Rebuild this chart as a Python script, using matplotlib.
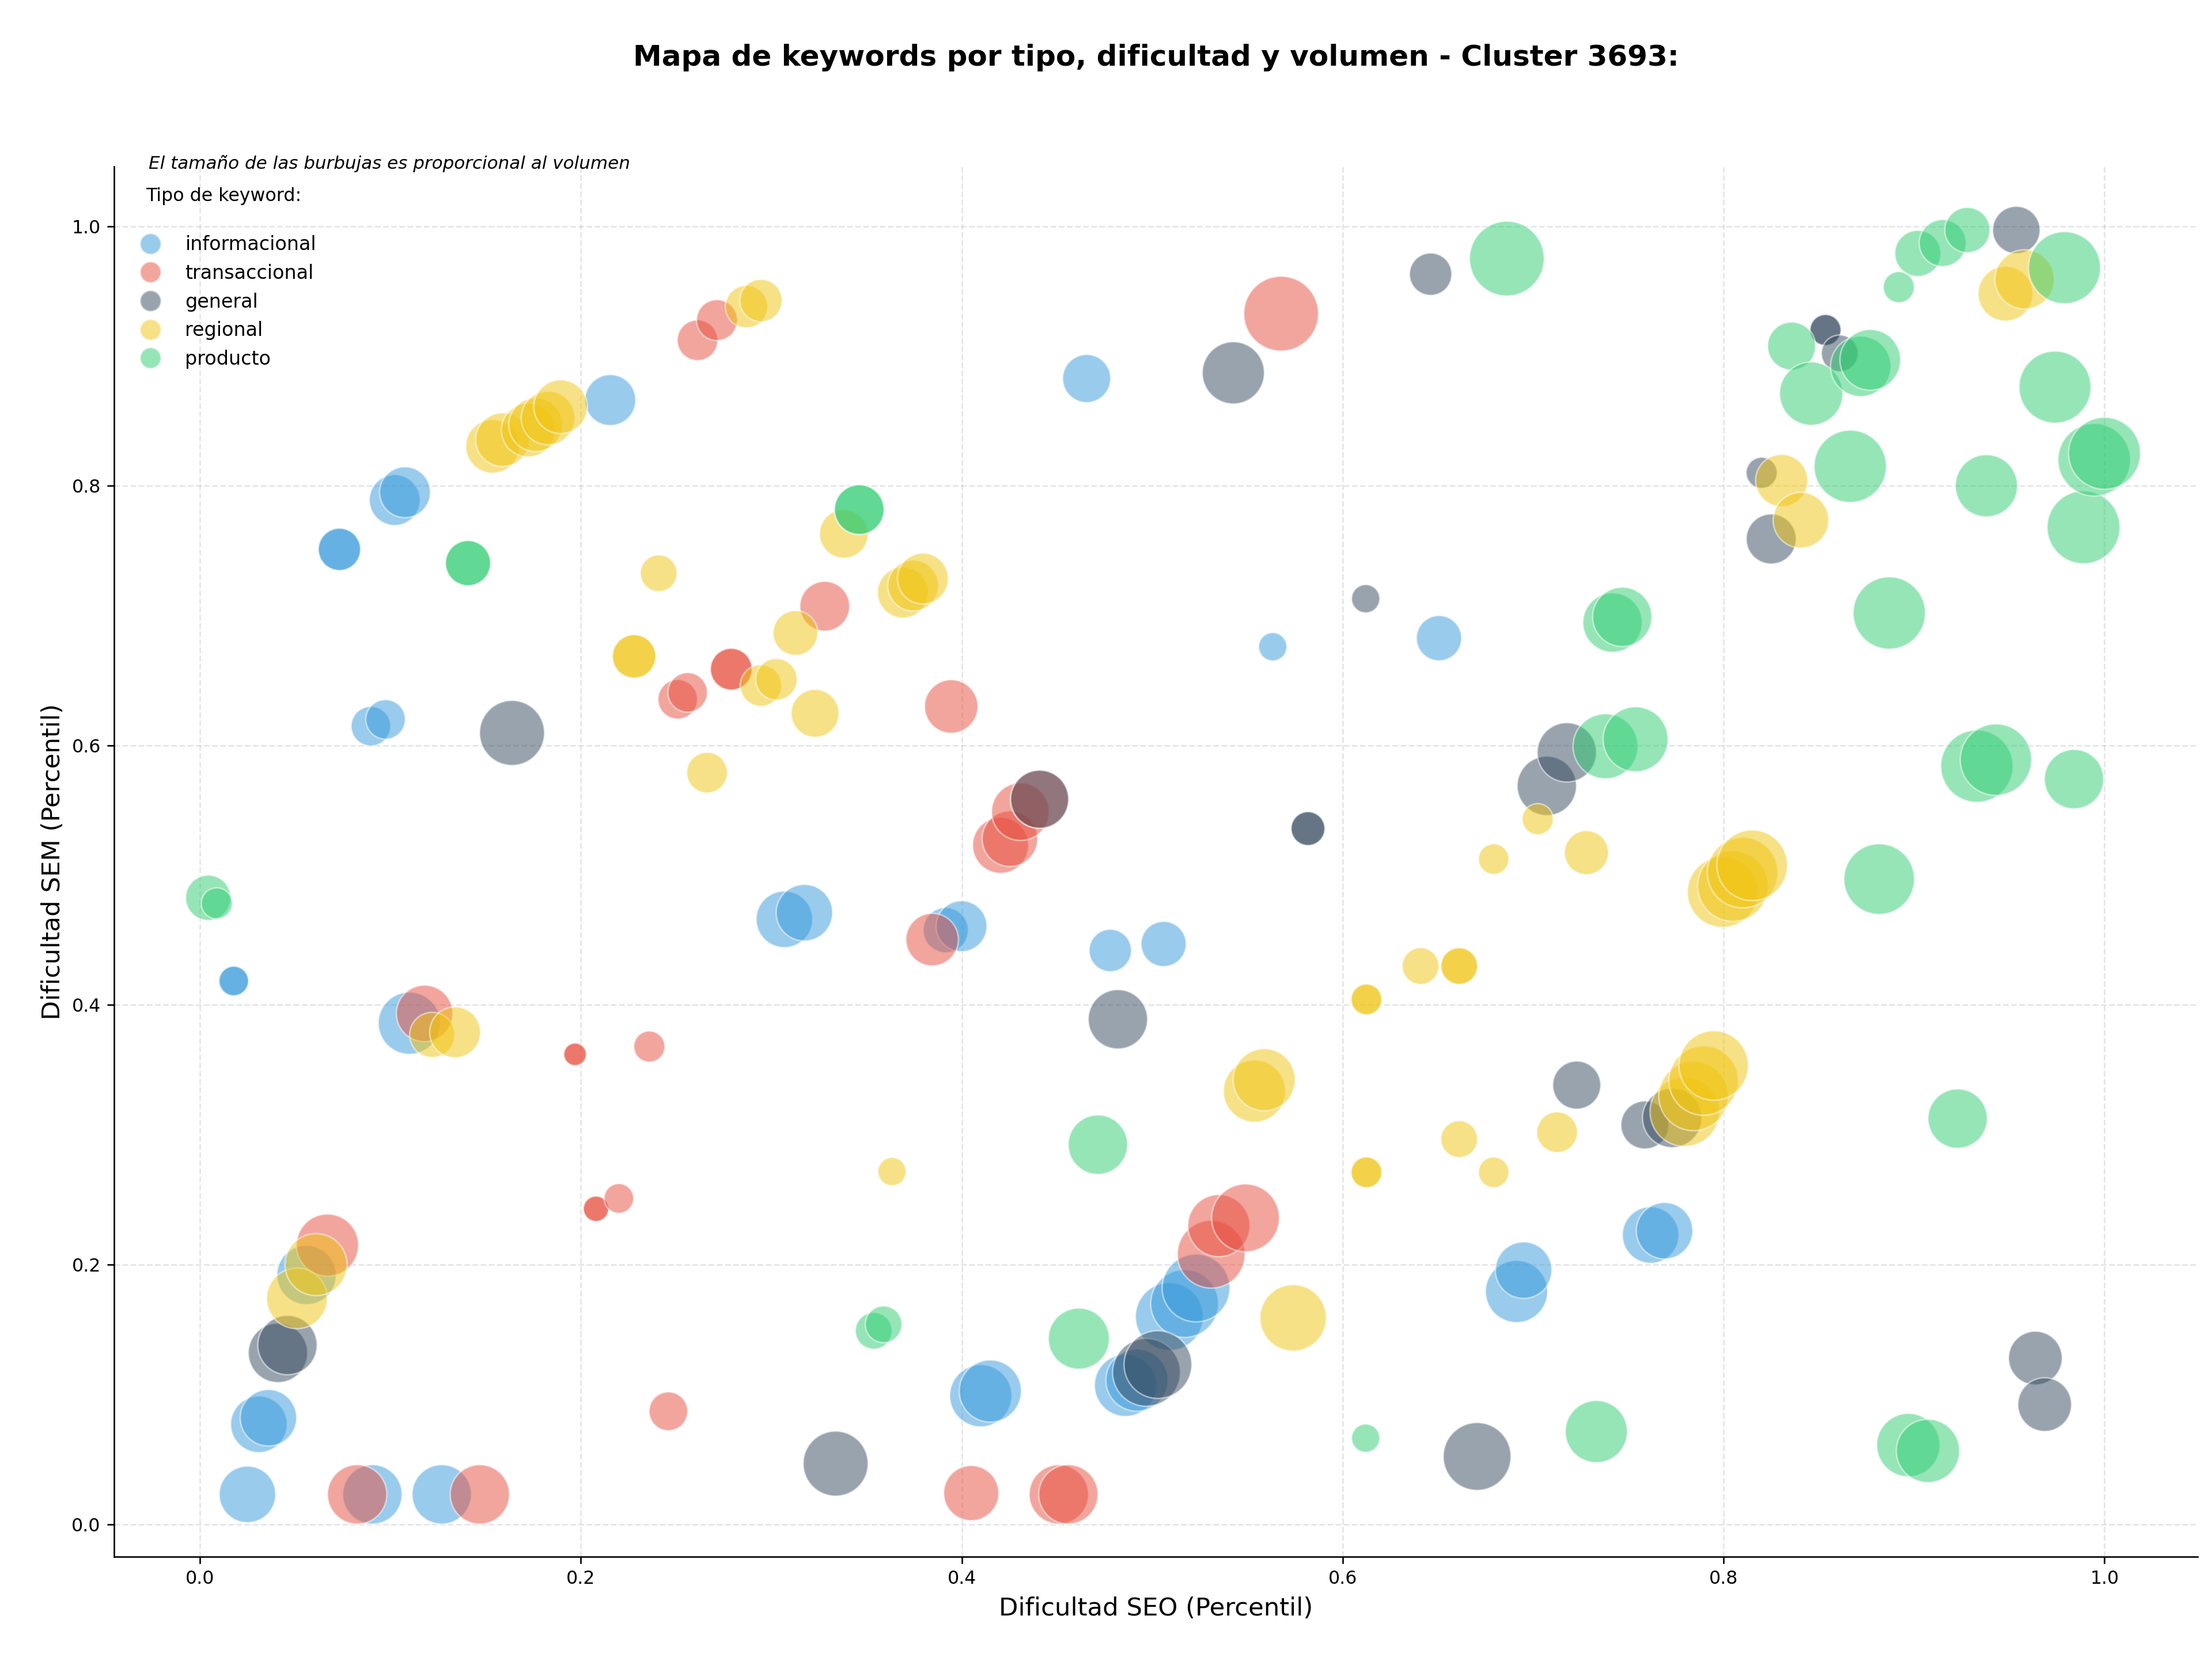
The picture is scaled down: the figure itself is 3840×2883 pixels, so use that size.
import numpy as np
import matplotlib.pyplot as plt
from matplotlib.lines import Line2D

# Dificultad SEO / SEM (percentil) y volumen por tipo de keyword
info_seo = [0.025, 0.0906, 0.127, 0.031, 0.036, 0.056, 0.110, 0.0178, 0.0178, 0.0898, 0.0975,
            0.0733, 0.0733, 0.1023, 0.1077, 0.2155, 0.3069, 0.3174, 0.3916, 0.3999, 0.410, 0.415,
            0.478, 0.506, 0.4656, 0.5633, 0.6506, 0.486, 0.492, 0.509, 0.517, 0.523, 0.6913,
            0.695, 0.7617, 0.769]
info_sem = [0.023, 0.023, 0.023, 0.077, 0.082, 0.192, 0.386, 0.4185, 0.4185, 0.6148, 0.620,
            0.751, 0.751, 0.789, 0.795, 0.866, 0.466, 0.4711, 0.4577, 0.4607, 0.099, 0.1026,
            0.442, 0.447, 0.8826, 0.676, 0.6826, 0.107, 0.111, 0.160, 0.170, 0.182, 0.1793,
            0.1957, 0.2228, 0.2261]
info_vol = [4000, 4410, 4410, 4000, 4000, 4410, 4840, 1100, 1100, 1960, 1960,
            2250, 2250, 3240, 3240, 3240, 4000, 4000, 2560, 3240, 4840, 4840,
            2250, 2560, 2890, 1000, 2560, 4840, 4840, 5760, 5760, 5760, 4840,
            4000, 4000, 4000]

trans_seo = [0.0826, 0.147, 0.067, 0.118, 0.197, 0.197, 0.208, 0.208, 0.220, 0.236, 0.246,
             0.2509, 0.2561, 0.2613, 0.2715, 0.279, 0.279, 0.3281, 0.3945, 0.3845, 0.405,
             0.451, 0.456, 0.4204, 0.4253, 0.4308, 0.4409, 0.531, 0.535, 0.549, 0.5677]
trans_sem = [0.023, 0.023, 0.215, 0.3935, 0.362, 0.362, 0.243, 0.243, 0.251, 0.368, 0.087,
             0.6355, 0.6408, 0.9121, 0.9276, 0.6587, 0.6587, 0.7072, 0.630, 0.4504, 0.024,
             0.023, 0.023, 0.523, 0.5281, 0.5489, 0.5585, 0.208, 0.230, 0.236, 0.9326]
trans_vol = [4410, 4410, 4840, 4000, 640, 640, 810, 810, 1100, 1210, 1880,
             1960, 1960, 2070, 2100, 2190, 2190, 3100, 3570, 3460, 3800,
             4410, 4410, 3920, 3880, 4160, 4240, 5760, 4840, 5760, 7000]

gen_seo = [0.041, 0.046, 0.1639, 0.3338, 0.4409, 0.482, 0.497, 0.503, 0.5426, 0.5818, 0.5818,
           0.6121, 0.6462, 0.6706, 0.7072, 0.7177, 0.7229, 0.7587, 0.773, 0.820, 0.825,
           0.8535, 0.8535, 0.861, 0.9537, 0.9637, 0.9686]
gen_sem = [0.132, 0.138, 0.6096, 0.0467, 0.5585, 0.389, 0.117, 0.123, 0.887, 0.5359, 0.5359,
           0.713, 0.963, 0.0522, 0.5688, 0.5946, 0.3383, 0.3076, 0.313, 0.810, 0.759,
           0.920, 0.920, 0.902, 0.997, 0.128, 0.0922]
gen_vol = [4410, 4410, 5290, 5290, 4240, 4410, 5760, 5760, 4840, 1440, 1440,
           1000, 2250, 5760, 4410, 4410, 2890, 2890, 4410, 1210, 3130,
           1210, 1210, 1690, 2820, 3610, 3610]

reg_seo = [0.051, 0.061, 0.122, 0.134, 0.1537, 0.1589, 0.1724, 0.1763, 0.1828, 0.1894, 0.228,
           0.228, 0.2409, 0.2663, 0.287, 0.2946, 0.2946, 0.3027, 0.3127, 0.323, 0.3381, 0.3634,
           0.3691, 0.3745, 0.3796, 0.5537, 0.5588, 0.574, 0.6125, 0.6125, 0.6125, 0.6125,
           0.6409, 0.6612, 0.6612, 0.6612, 0.6793, 0.6793, 0.7024, 0.7126, 0.728, 0.7796,
           0.7842, 0.7895, 0.7948, 0.7995, 0.8049, 0.810, 0.815, 0.8305, 0.8406, 0.948, 0.958]
reg_sem = [0.174, 0.200, 0.377, 0.379, 0.8304, 0.8355, 0.8429, 0.8470, 0.8522, 0.8609, 0.6686,
           0.6686, 0.7326, 0.579, 0.938, 0.9427, 0.6461, 0.6509, 0.6866, 0.6247, 0.763, 0.2717,
           0.7178, 0.7231, 0.7285, 0.3337, 0.3424, 0.159, 0.4043, 0.4043, 0.2711, 0.2711,
           0.430, 0.430, 0.430, 0.2967, 0.5124, 0.2711, 0.5432, 0.302, 0.5174, 0.3178,
           0.3299, 0.3418, 0.3534, 0.487, 0.4916, 0.502, 0.5076, 0.804, 0.7735, 0.948, 0.959]
reg_vol = [4620, 4840, 2560, 3240, 3610, 3610, 3610, 3610, 3610, 3610, 2370,
           2370, 1690, 2070, 2250, 2250, 2160, 2160, 2500, 2860, 2960, 1000,
           3240, 3240, 3240, 4840, 4840, 5520, 1190, 1190, 1190, 1190,
           1690, 1690, 1690, 1690, 1170, 1170, 1210, 2070, 2430, 6050,
           6050, 6050, 6050, 6250, 6250, 6250, 6250, 3420, 3880, 3760, 4410]

prod_seo = [0.0044, 0.0089, 0.1408, 0.1408, 0.3462, 0.3462, 0.3538, 0.359, 0.4615, 0.4715,
            0.6121, 0.6862, 0.7332, 0.738, 0.7538, 0.7417, 0.7468, 0.8357, 0.846, 0.8665,
            0.872, 0.877, 0.8817, 0.887, 0.892, 0.897, 0.9073, 0.902, 0.915, 0.9229, 0.928,
            0.933, 0.943, 0.938, 0.974, 0.979, 0.984, 0.989, 0.9946, 1.0]
prod_sem = [0.4826, 0.4783, 0.7404, 0.7404, 0.7816, 0.7816, 0.149, 0.154, 0.143, 0.2924,
            0.0663, 0.975, 0.0714, 0.5993, 0.6047, 0.6946, 0.699, 0.9076, 0.871, 0.815,
            0.892, 0.897, 0.497, 0.702, 0.953, 0.061, 0.0565, 0.979, 0.987, 0.3125, 0.997,
            0.584, 0.589, 0.800, 0.876, 0.968, 0.574, 0.768, 0.820, 0.825]
prod_vol = [2560, 1210, 2560, 2560, 3100, 3100, 1690, 1690, 4670, 4410,
            1000, 7000, 4840, 5290, 5290, 4410, 4410, 2890, 5020, 6550,
            4580, 4620, 6250, 6550, 1210, 5020, 5020, 2660, 2760, 4410, 2560,
            6550, 6400, 4840, 6500, 6500, 4410, 6660, 6600, 6500]

tipos = ['informacional', 'transaccional', 'general', 'regional', 'producto']
colores = ['#3498DB', '#E74C3C', '#34495E', '#F1C40F', '#2ECC71']
series = [(info_seo, info_sem, info_vol), (trans_seo, trans_sem, trans_vol),
          (gen_seo, gen_sem, gen_vol), (reg_seo, reg_sem, reg_vol),
          (prod_seo, prod_sem, prod_vol)]

fig = plt.figure(figsize=(16, 12.0125), dpi=240)
ax = fig.add_axes([0.0516, 0.0628, 0.942, 0.837])

for (sx, sy, vol), c in zip(series, colores):
    ax.scatter(sx, sy, s=np.array(vol) * 0.216, color=c, alpha=0.5,
               edgecolors='white', linewidths=0.8, zorder=2)

ax.set_xlim(-0.045, 1.049)
ax.set_ylim(-0.025, 1.046)
ax.set_xticks([0.0, 0.2, 0.4, 0.6, 0.8, 1.0])
ax.set_yticks([0.0, 0.2, 0.4, 0.6, 0.8, 1.0])
ax.tick_params(labelsize=9.5)
ax.grid(True, linestyle='--', color='gray', alpha=0.2, linewidth=0.8)
ax.set_axisbelow(True)
ax.spines['top'].set_visible(False)
ax.spines['right'].set_visible(False)

ax.set_xlabel('Dificultad SEO (Percentil)', fontsize=13, labelpad=4.5)
ax.set_ylabel('Dificultad SEM (Percentil)', fontsize=13, labelpad=3.5)

fig.text(0.5226, 0.9653, 'Mapa de keywords por tipo, dificultad y volumen - Cluster 3693:',
         ha='center', va='center', fontsize=15, fontweight='bold')

ax.text(0.0166, 0.996, 'El tamaño de las burbujas es proporcional al volumen',
        transform=ax.transAxes, fontsize=9.3, style='italic', va='bottom')

handles = [Line2D([0], [0], marker='o', linestyle='', markersize=11, color=c,
                  alpha=0.5, markeredgecolor='white') for c in colores]
ax.legend(handles, tipos, loc='upper left', bbox_to_anchor=(0.0, 0.9975), frameon=False,
          title='Tipo de keyword:\n', title_fontsize=9.5, fontsize=10, labelspacing=0.5)

fig.savefig('out.png', dpi=240)
